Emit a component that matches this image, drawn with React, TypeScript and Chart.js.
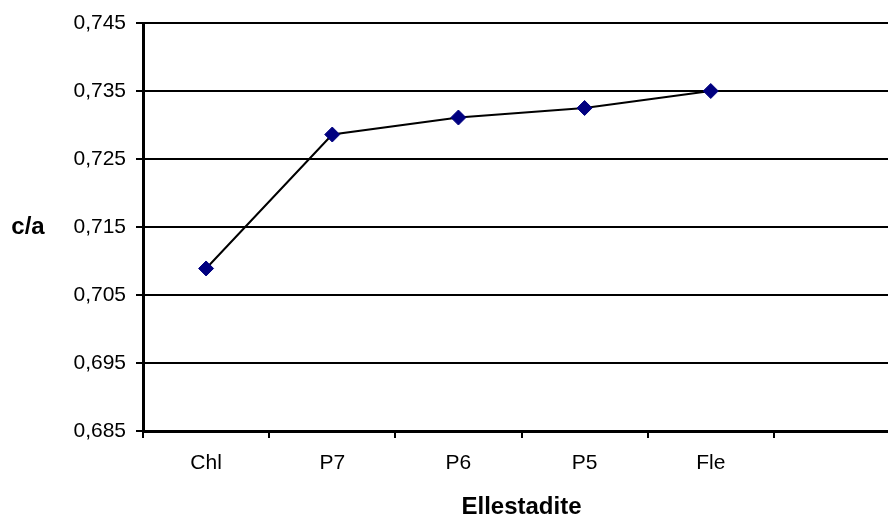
import React, { useEffect, useRef } from "react";
import { Chart, registerables } from "chart.js";

Chart.register(...registerables);

const categories = ["Chl", "P7", "P6", "P5", "Fle", ""];
const caValues = [0.7089, 0.7286, 0.7311, 0.7325, 0.735, null];
const yTicks = [0.685, 0.695, 0.705, 0.715, 0.725, 0.735, 0.745];
const xTitle = "Ellestadite";
const yTitle = "c/a";

const FONT = "'Liberation Sans', Arial, Helvetica, sans-serif";

const yTitlePlugin = {
  id: "yTitlePlugin",
  afterDraw(chart: any) {
    const { ctx, chartArea } = chart;
    ctx.save();
    ctx.font = `bold 24px ${FONT}`;
    ctx.fillStyle = "#000";
    ctx.textAlign = "center";
    ctx.textBaseline = "middle";
    ctx.fillText(yTitle, 28, (chartArea.top + chartArea.bottom) / 2);
    ctx.restore();
  },
};

export default function App() {
  const ref = useRef<HTMLCanvasElement | null>(null);
  useEffect(() => {
    if (!ref.current) return;
    const chart = new Chart(ref.current, {
      type: "line",
      data: {
        labels: categories,
        datasets: [
          {
            data: caValues as any,
            borderColor: "#000000",
            borderWidth: 2,
            pointStyle: "rectRot",
            pointRadius: 7.5,
            pointBackgroundColor: "#000080",
            pointBorderColor: "#000080",
            pointBorderWidth: 1,
            tension: 0,
            fill: false,
          },
        ],
      },
      plugins: [yTitlePlugin],
      options: {
        animation: false,
        responsive: false,
        maintainAspectRatio: false,
        layout: { padding: { top: 23, right: 10, left: 0, bottom: 0 } },
        plugins: { legend: { display: false }, tooltip: { enabled: false } },
        scales: {
          x: {
            type: "category",
            offset: true,
            grid: {
              offset: true,
              drawOnChartArea: false,
              drawTicks: true,
              tickLength: 7,
              color: "#000",
              lineWidth: 2,
            },
            border: { color: "#000", width: 3 },
            ticks: {
              color: "#000",
              font: { family: FONT, size: 21 },
              padding: 13,
              maxRotation: 0,
              autoSkip: false,
            },
            title: {
              display: true,
              text: xTitle,
              color: "#000",
              font: { family: FONT, size: 24, weight: "bold", lineHeight: 1 },
              padding: { top: 0, bottom: -2 },
            },
            afterFit(scale: any) {
              scale.height = 86;
            },
          },
          y: {
            min: 0.685,
            max: 0.745,
            grid: {
              color: "#000",
              lineWidth: 2,
              tickLength: 7,
              drawTicks: true,
            },
            border: { color: "#000", width: 3 },
            afterBuildTicks(scale: any) {
              scale.ticks = yTicks.map((v) => ({ value: v }));
            },
            ticks: {
              color: "#000",
              font: { family: FONT, size: 21 },
              padding: 10,
              callback: (v: any) => Number(v).toFixed(3).replace(".", ","),
            },
            afterFit(scale: any) {
              scale.width = 143;
            },
          },
        },
      },
    });
    return () => chart.destroy();
  }, []);
  return (
    <div
      style={{
        position: "absolute",
        left: 0,
        top: 0,
        width: 888,
        height: 517,
        overflow: "hidden",
        background: "#fff",
      }}
    >
      <canvas ref={ref} width={910} height={517} style={{ width: 910, height: 517, display: "block" }} />
    </div>
  );
}
